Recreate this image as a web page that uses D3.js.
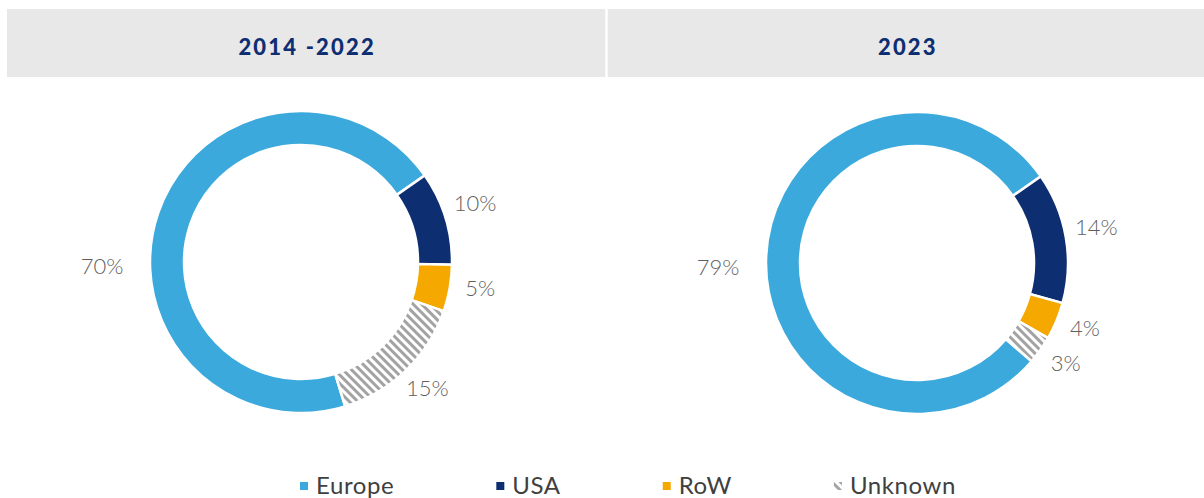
<!DOCTYPE html>
<html>
<head>
<meta charset="utf-8">
<script src="https://cdn.jsdelivr.net/npm/d3@7"></script>
<style>
  body { margin: 0; background: #fff; }
  svg { display: block; }
</style>
</head>
<body>
<svg id="chart"></svg>
<script>
// data
const categories = ["Europe", "USA", "RoW", "Unknown"];
const periods = ["2014 -2022", "2023"];
const values2014 = [70, 10, 5, 15];
const values2023 = [79, 14, 4, 3];
// slices are drawn clockwise starting with USA, Europe closes the ring
const drawOrder = ["USA", "RoW", "Unknown", "Europe"];

const width = 1204, height = 498;
const colors = { Europe: "#3ba9dc", USA: "#0e2e72", RoW: "#f5a800", Unknown: "url(#hatch)" };

const svg = d3.select("#chart").attr("width", width).attr("height", height);

// hatch pattern for "Unknown"
const defs = svg.append("defs");
const pat = defs.append("pattern")
    .attr("id", "hatch")
    .attr("patternUnits", "userSpaceOnUse")
    .attr("width", 6).attr("height", 6)
    .attr("patternTransform", "rotate(-45)");
pat.append("rect").attr("width", 6).attr("height", 6).attr("fill", "#fff");
pat.append("rect").attr("x", 0).attr("width", 3).attr("height", 6).attr("fill", "#a3a3a3");

// header bands
const panelX = d3.scaleBand().domain(periods).range([7, width + 2]).paddingInner(0.004);
svg.selectAll(".band")
    .data(periods)
    .enter()
    .append("rect")
    .attr("x", (d) => panelX(d))
    .attr("y", 9)
    .attr("width", panelX.bandwidth())
    .attr("height", 68)
    .attr("fill", "#e8e8e8");
svg.selectAll(".title")
    .data(periods)
    .enter()
    .append("text")
    .attr("x", (d) => panelX(d) + panelX.bandwidth() / 2 + 1)
    .attr("y", 55)
    .attr("text-anchor", "middle")
    .attr("font-family", "Lato, 'Open Sans', sans-serif")
    .attr("font-weight", 900)
    .attr("font-size", 22)
    .attr("letter-spacing", 2.2)
    .attr("fill", "#0e2e72")
    .text((d) => d);

const outerR = 151, innerR = 117;
const pie = d3.pie()
    .sort((a, b) => drawOrder.indexOf(a.cat) - drawOrder.indexOf(b.cat))
    .value((d) => d.value)
    .startAngle(55 * Math.PI / 180)
    .endAngle(55 * Math.PI / 180 + 2 * Math.PI);
const arc = d3.arc().innerRadius(innerR).outerRadius(outerR);
const labelArc = d3.arc().innerRadius(outerR + 31).outerRadius(outerR + 31);

function drawDonut(values, cx, cy) {
    const data = categories.map((c, i) => ({ cat: c, value: values[i] }));
    const arcs = pie(data);
    const g = svg.append("g").attr("transform", "translate(" + cx + "," + cy + ")");
    g.selectAll("path")
        .data(arcs)
        .enter()
        .append("path")
        .attr("d", arc)
        .attr("fill", (d) => colors[d.data.cat])
        .attr("stroke", "#fff")
        .attr("stroke-width", 2.5);
    const maxVal = d3.max(values);
    g.selectAll(".lbl")
        .data(arcs)
        .enter()
        .append("text")
        .attr("transform", (d) => {
            // the biggest slice gets its label at 9 o'clock
            if (d.data.value === maxVal) return "translate(" + -(outerR + 48) + ",4)";
            const [x, y] = labelArc.centroid(d);
            return "translate(" + x + "," + (y - 5) + ")";
        })
        .attr("dy", "0.35em")
        .attr("text-anchor", "middle")
        .attr("font-family", "Lato, sans-serif")
        .attr("font-weight", 300)
        .attr("font-size", 22)
        .attr("fill", "#5f5f5f")
        .text((d) => d.data.value + "%");
}

drawDonut(values2014, 301, 262);
drawDonut(values2023, 917, 263);

// legend
const legend = svg.append("g").attr("transform", "translate(300,486)");
let lx = 0;
categories.forEach((c) => {
    const item = legend.append("g").attr("transform", "translate(" + lx + ",0)");
    item.append("rect")
        .attr("x", 0).attr("y", -4)
        .attr("width", 8).attr("height", 8)
        .attr("fill", colors[c]);
    const t = item.append("text")
        .attr("x", 16)
        .attr("y", 8)
        .attr("font-family", "Lato, sans-serif")
        .attr("font-size", 24)
        .attr("letter-spacing", 0.6)
        .attr("fill", "#404040")
        .text(c);
    lx += 16 + t.node().getComputedTextLength() + 102;
});
</script>
</body>
</html>
